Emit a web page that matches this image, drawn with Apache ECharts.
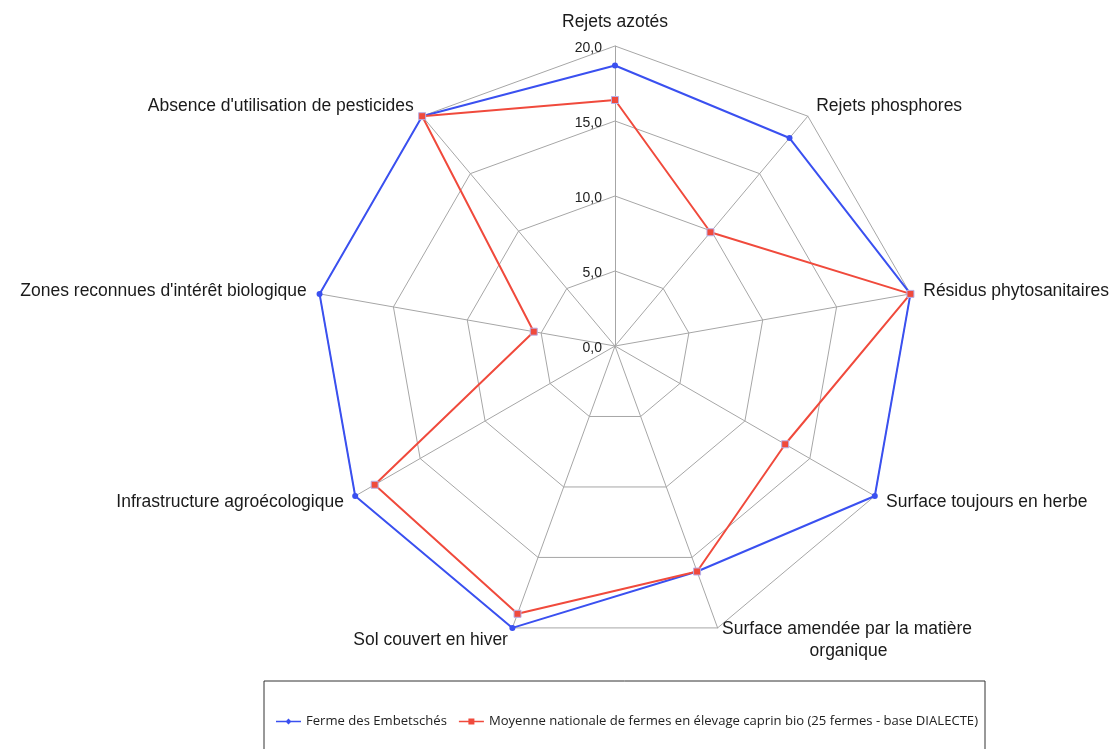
<!DOCTYPE html>
<html>
<head>
<meta charset="utf-8">
<script src="https://cdn.jsdelivr.net/npm/echarts@6/dist/echarts.min.js"></script>
<style>
html, body { margin: 0; padding: 0; background: #fff; }
#chart { width: 1113px; height: 749px; }
</style>
</head>
<body>
<div id="chart"></div>
<script>
// axes, clockwise from the top
var indicatorNames = [
	'Rejets azotés',
	'Rejets phosphores',
	'Résidus phytosanitaires',
	'Surface toujours en herbe',
	'Surface amendée par la matière\n                  organique',
	'Sol couvert en hiver',
	'Infrastructure agroécologique',
	"Zones reconnues d'intérêt biologique",
	"Absence d'utilisation de pesticides"
];
var seriesNames = [
	'Ferme des Embetschés',
	'Moyenne nationale de fermes en élevage caprin bio (25 fermes - base DIALECTE)'
];
var fermeValues   = [18.7, 18.1, 20, 20, 16.0, 20, 20, 20, 20];
var moyenneValues = [16.4, 9.9, 20, 13.1, 16.0, 19.0, 18.5, 5.5, 20];
var axisMax = 20;
var axisInterval = 5;

var blue = '#3a50f0';
var red = '#f04a3c';

var chart = echarts.init(document.getElementById('chart'));

// echarts radar runs counter-clockwise, so keep the first axis on top and flip the rest
function toRadarOrder(arr) {
	return [arr[0]].concat(arr.slice(1).reverse());
}

var indicators = toRadarOrder(indicatorNames).map(function (n) {
	return { name: n, min: 0, max: axisMax };
});

var fmt = function (v) {
	return v.toFixed(1).replace('.', ',');
};

var option = {
	animation: false,
	radar: {
		center: [615, 346],
		radius: 300,
		startAngle: 90,
		splitNumber: axisMax / axisInterval,
		shape: 'polygon',
		indicator: indicators,
		axisName: {
			color: '#1a1a1a',
			fontFamily: 'Liberation Sans, Arial',
			fontSize: 17.5,
			lineHeight: 22
		},
		nameGap: 13,
		axisLine: { lineStyle: { color: '#a6a6a6', width: 1 } },
		splitLine: { lineStyle: { color: '#a6a6a6', width: 1 } },
		splitArea: { show: false },
		axisTick: { show: false },
		axisLabel: { show: false }
	},
	// only used for the value labels on the vertical axis (a bit lower, labels sit under the ring)
	polar: {
		center: [615, 348],
		radius: 300
	},
	angleAxis: {
		show: false,
		startAngle: 90,
		min: 0,
		max: 360
	},
	radiusAxis: {
		min: 0,
		max: axisMax,
		interval: axisInterval,
		axisLine: { show: false },
		axisTick: { show: false },
		splitLine: { show: false },
		axisLabel: {
			formatter: fmt,
			margin: 13,
			color: '#222',
			fontFamily: 'Liberation Sans, Arial',
			fontSize: 14
		}
	},
	legend: {
		left: 264,
		top: 681,
		padding: [34, 7, 42, 12],
		borderColor: '#333',
		borderWidth: 1,
		itemWidth: 25,
		itemHeight: 6,
		itemGap: 12,
		textStyle: {
			color: '#222',
			fontFamily: 'Open Sans',
			fontSize: 13.1
		},
		data: [
			{
				name: seriesNames[0],
				icon: 'path://M0,2.3L25,2.3L25,3.7L0,3.7Z M12.5,0L15.5,3L12.5,6L9.5,3Z',
				itemStyle: { color: blue, borderWidth: 0 }
			},
			{
				name: seriesNames[1],
				icon: 'path://M0,2.3L25,2.3L25,3.7L0,3.7Z M9.5,0L15.5,0L15.5,6L9.5,6Z',
				itemStyle: { color: red, borderWidth: 0 }
			}
		]
	},
	series: [{
		type: 'radar',
		symbolSize: 6,
		data: [
			{
				name: seriesNames[0],
				value: toRadarOrder(fermeValues),
				symbol: 'circle',
				lineStyle: { color: blue, width: 2 },
				itemStyle: { color: blue }
			},
			{
				name: seriesNames[1],
				value: toRadarOrder(moyenneValues),
				symbol: 'rect',
				symbolSize: 7,
				lineStyle: { color: red, width: 2 },
				itemStyle: { color: red, borderColor: '#b8b0e8', borderWidth: 1 }
			}
		]
	}]
};

chart.setOption(option);
</script>
</body>
</html>
